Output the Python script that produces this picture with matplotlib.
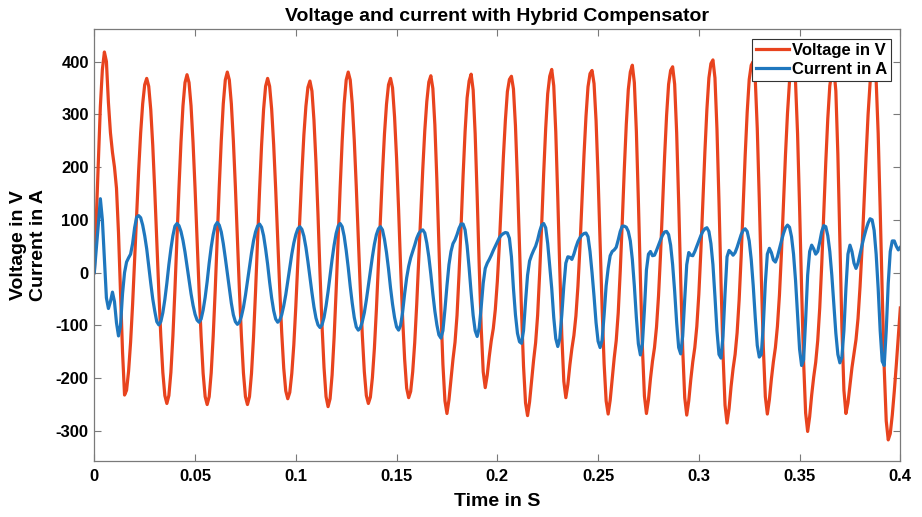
import numpy as np
import matplotlib
matplotlib.use('Agg')
import matplotlib.pyplot as plt

TITLE = 'Voltage and current with Hybrid Compensator'
X_LABEL = 'Time in S'
Y_LABEL = 'Voltage in V\nCurrent in A'
SERIES_NAMES = ['Voltage in V', 'Current in A']
X_TICKS = [0, 0.05, 0.1, 0.15, 0.2, 0.25, 0.3, 0.35, 0.4]
X_TICK_LABELS = ['0', '0.05', '0.1', '0.15', '0.2', '0.25', '0.3', '0.35', '0.4']
Y_TICKS = [-300, -200, -100, 0, 100, 200, 300, 400]

# samples every 1 ms, one row per 20 ms cycle
voltage_v = [
    0, 105, 215, 315, 385, 418, 400, 322, 265, 228, 200, 160, 75, -35, -150, -232, -223, -187, -132, -60,
    24, 109, 193, 265, 320, 356, 368, 353, 309, 241, 155, 60, -35, -121, -189, -233, -248, -233, -189, -120,
    -33, 64, 160, 247, 316, 360, 375, 360, 316, 246, 159, 62, -34, -121, -191, -235, -250, -235, -190, -120,
    -33, 65, 163, 250, 320, 365, 380, 365, 320, 250, 163, 65, -33, -120, -190, -235, -250, -235, -191, -123,
    -37, 59, 155, 241, 309, 353, 368, 353, 310, 243, 159, 64, -30, -114, -181, -224, -239, -227, -191, -137,
    -64, 20, 104, 188, 261, 315, 351, 363, 344, 289, 209, 110, -1, -100, -180, -235, -254, -239, -194, -123,
    -35, 63, 161, 249, 320, 365, 380, 365, 320, 251, 163, 66, -31, -119, -188, -233, -248, -236, -199, -143,
    -69, 17, 103, 189, 263, 319, 356, 368, 350, 295, 217, 120, 11, -86, -164, -219, -237, -225, -188, -133,
    -60, 25, 111, 196, 269, 324, 361, 373, 349, 280, 175, 53, -69, -174, -243, -267, -241, -203, -164, -132,
    -81, -3, 87, 183, 267, 331, 363, 376, 346, 263, 144, 14, -105, -188, -218, -194, -159, -129, -106, -70,
    -17, 53, 136, 219, 289, 343, 366, 372, 348, 278, 173, 50, -72, -177, -247, -271, -245, -205, -166, -133,
    -81, -2, 90, 188, 273, 339, 372, 385, 354, 267, 142, 6, -119, -206, -237, -212, -175, -144, -119, -82,
    -26, 48, 135, 222, 296, 352, 377, 383, 358, 288, 182, 57, -67, -173, -243, -268, -242, -202, -162, -129,
    -76, 3, 96, 195, 281, 347, 380, 393, 360, 268, 136, -10, -142, -234, -267, -241, -201, -168, -142, -103,
    -44, 35, 127, 219, 298, 357, 383, 390, 357, 265, 133, -13, -145, -237, -270, -243, -203, -169, -142, -102,
    -41, 40, 134, 228, 309, 369, 396, 403, 369, 272, 135, -17, -154, -251, -285, -258, -216, -182, -155, -114,
    -52, 30, 126, 222, 304, 366, 393, 400, 367, 273, 139, -7, -141, -235, -268, -241, -202, -169, -142, -102,
    -43, 37, 130, 223, 302, 362, 388, 395, 360, 263, 124, -30, -169, -266, -301, -273, -232, -198, -170, -129,
    -67, 16, 112, 209, 292, 354, 381, 388, 344, 224, 60, -103, -223, -267, -247, -214, -180, -154, -127, -87,
    -27, 46, 133, 220, 300, 360, 393, 400, 364, 264, 120, -37, -181, -281, -317, -305, -270, -225, -175, -120,
    -67,
]

current_a = [
    0, 45, 92, 140, 100, 25, -48, -68, -55, -37, -55, -95, -120, -100, -40, 0, 20, 28, 35, 55,
    85, 105, 108, 104, 90, 70, 45, 12, -20, -50, -73, -93, -99, -93, -76, -51, -20, 15, 45, 70,
    88, 93, 89, 78, 61, 39, 13, -14, -40, -62, -79, -90, -94, -88, -71, -47, -17, 18, 48, 72,
    89, 95, 90, 77, 55, 28, -1, -31, -58, -80, -93, -98, -94, -83, -66, -43, -16, 10, 37, 60,
    77, 88, 92, 86, 70, 45, 16, -18, -48, -72, -88, -94, -90, -80, -63, -42, -16, 9, 35, 56,
    72, 83, 87, 82, 69, 48, 21, -9, -38, -65, -86, -99, -104, -99, -85, -63, -36, -6, 25, 52,
    74, 88, 93, 87, 69, 42, 10, -26, -58, -85, -103, -109, -105, -93, -76, -52, -25, 3, 30, 54,
    72, 83, 87, 81, 63, 38, 7, -29, -60, -85, -103, -109, -100, -75, -40, -10, 12, 28, 40, 52,
    65, 74, 79, 81, 75, 56, 30, -3, -40, -73, -99, -118, -124, -110, -70, -25, 15, 40, 55, 62,
    72, 84, 92, 92, 81, 51, 9, -38, -81, -110, -121, -105, -65, -20, 8, 18, 25, 33, 42, 50,
    58, 66, 71, 74, 76, 75, 65, 30, -30, -80, -115, -131, -134, -110, -55, -5, 22, 33, 42, 50,
    62, 78, 90, 93, 85, 55, 12, -30, -85, -125, -140, -125, -80, -25, 18, 30, 29, 25, 35, 48,
    59, 66, 71, 74, 75, 68, 40, 0, -45, -95, -130, -142, -128, -80, -25, 8, 32, 40, 43, 48,
    62, 78, 88, 88, 86, 78, 60, 25, -25, -85, -135, -156, -135, -70, 5, 35, 40, 32, 33, 42,
    52, 62, 71, 77, 78, 72, 52, 15, -35, -95, -142, -154, -120, -50, 15, 38, 33, 32, 40, 50,
    60, 70, 78, 83, 85, 78, 55, 15, -45, -110, -155, -162, -120, -40, 30, 42, 38, 33, 38, 48,
    60, 72, 80, 83, 78, 60, 25, -25, -85, -138, -160, -155, -100, -20, 35, 46, 38, 24, 20, 30,
    45, 60, 74, 85, 90, 86, 68, 35, -15, -80, -145, -176, -165, -90, -5, 40, 52, 45, 35, 40,
    58, 78, 89, 87, 70, 40, -5, -60, -115, -155, -171, -160, -110, -30, 35, 52, 40, 18, 8, 18,
    35, 52, 68, 82, 94, 102, 100, 80, 35, -30, -110, -168, -176, -110, -20, 40, 60, 60, 50, 43,
    48,
]

SAMPLE_STEP = 0.001
time_s = np.arange(len(voltage_v)) * SAMPLE_STEP

RED = '#E8431E'
BLUE = '#1F77BE'
AXIS_GRAY = '#7a7a7a'

plt.rcParams['font.family'] = ['Liberation Sans', 'DejaVu Sans']
plt.rcParams['font.weight'] = 'bold'
plt.rcParams['font.size'] = 12
plt.rcParams['axes.unicode_minus'] = False


def main():
    fig = plt.figure(figsize=(9.22, 5.17), dpi=100)
    ax = fig.add_axes([0.1023, 0.1083, 0.8742, 0.8350])

    ax.plot(time_s, voltage_v, color=RED, lw=2.3, label=SERIES_NAMES[0])
    ax.plot(time_s, current_a, color=BLUE, lw=2.3, label=SERIES_NAMES[1])

    ax.set_xlim(0, 0.4)
    ax.set_ylim(-357, 461)
    ax.set_xticks(X_TICKS)
    ax.set_xticklabels(X_TICK_LABELS)
    ax.set_yticks(Y_TICKS)

    for sp in ax.spines.values():
        sp.set_color(AXIS_GRAY)
        sp.set_linewidth(0.9)
    ax.tick_params(direction='in', top=True, right=True, length=5, width=0.8,
                   color=AXIS_GRAY, labelcolor='black', labelsize=12)
    ax.tick_params(axis='x', pad=6)
    ax.tick_params(axis='y', pad=4)
    for lab in ax.get_xticklabels() + ax.get_yticklabels():
        lab.set_fontweight('bold')

    ax.set_title(TITLE, fontsize=14, fontweight='bold', pad=6)
    ax.set_xlabel(X_LABEL, fontsize=14, fontweight='bold', labelpad=6)
    ax.set_ylabel(Y_LABEL, fontsize=14, fontweight='bold', labelpad=6, linespacing=1.25)

    leg = ax.legend(loc='upper right', bbox_to_anchor=(0.9885, 0.9775), borderaxespad=0,
                    fancybox=False, framealpha=1, edgecolor='#333333', prop={'weight': 'bold', 'size': 12},
                    handlelength=2.0, handletextpad=0.15, labelspacing=0.2, borderpad=0.25)
    leg.get_frame().set_linewidth(0.8)

    fig.savefig('out.png', dpi=100)
    plt.close(fig)


if __name__ == '__main__':
    main()
